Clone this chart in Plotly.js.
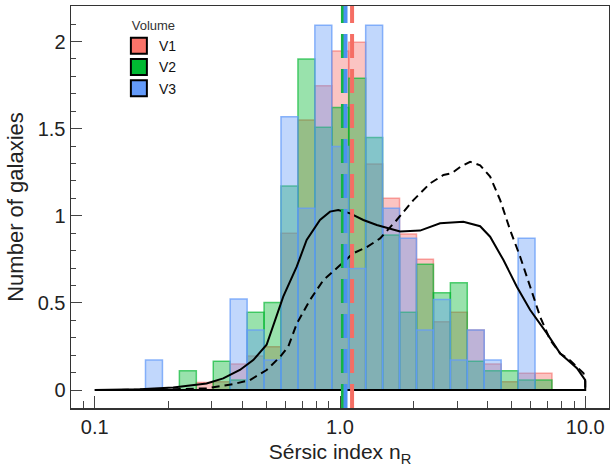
<!DOCTYPE html>
<html><head><meta charset="utf-8">
<script src="https://cdn.plot.ly/plotly-3.0.1.min.js"></script>
<style>html,body{margin:0;padding:0;background:#fff}#chart{width:610px;height:473px}</style>
</head><body><div id="chart"></div>
<script>
// Histogram bin edges (log-spaced Sérsic index)
const binEdges = [0.1610, 0.1888, 0.2213, 0.2595, 0.3042, 0.3566, 0.4181, 0.4901, 0.5746, 0.6737,
  0.7898, 0.9259, 1.0854, 1.2726, 1.4919, 1.7490, 2.0504, 2.4040, 2.8180, 3.3037,
  3.8726, 4.5404, 5.3236, 6.2410, 7.3160];
const seriesNames = ['V1', 'V2', 'V3'];
const countsV1 = [0, 0, 0, 0.044, 0.048, 0.149, 0.195, 0.249, 0.90, 1.55, 1.747, 1.946,
  1.996, 1.297, 1.10, 0.896, 0.750, 0.392, 0.446, 0.344, 0.149, 0.048, 0.096, 0.096];
const countsV2 = [0, 0, 0.111, 0, 0.166, 0.057, 0.446, 0.503, 1.171, 1.90, 1.508, 1.621,
  1.789, 1.45, 0.89, 0.446, 0.722, 0.559, 0.616, 0.166, 0.111, 0.111, 0.057, 0.057];
const countsV3 = [0.172, 0, 0, 0, 0, 0.522, 0.344, 0.172, 1.569, 1.043, 2.094, 1.397,
  0.698, 2.094, 1.043, 0.871, 0.344, 0.52, 0.172, 0.344, 0.172, 0, 0.871, 0];
const medians = [1.12, 1.028, 1.053];

// Black curves (closed outlines)
const solidX = [0.1, 0.1527, 0.2088, 0.2857, 0.3340, 0.3906, 0.4428, 0.5021, 0.5869, 0.666,
  0.7312, 0.8286, 0.9104, 0.9843, 1.099, 1.245, 1.412, 1.600, 1.758, 2.121, 2.560, 3.186,
  3.728, 4.094, 4.640, 5.262, 5.964, 6.977, 7.907, 8.687, 9.250, 10.0, 10.0, 0.1];
const solidY = [0, 0.005, 0.015, 0.038, 0.067, 0.115, 0.172, 0.26, 0.536, 0.708,
  0.861, 0.976, 1.024, 1.033, 1.014, 0.976, 0.947, 0.928, 0.91, 0.915, 0.957, 0.966,
  0.94, 0.88, 0.746, 0.593, 0.459, 0.325, 0.21, 0.16, 0.125, 0.057, 0, 0];
const dashedX = [0.1, 0.1842, 0.2857, 0.3668, 0.4292, 0.5021, 0.569, 0.6152, 0.666, 0.7544,
  0.8547, 1.0, 1.133, 1.285, 1.457, 1.703, 1.992, 2.330, 2.641, 2.857, 3.090, 3.393, 3.728,
  4.094, 4.499, 4.941, 5.428, 5.964, 6.551, 7.196, 7.907, 8.687, 9.843, 10.0, 10.0, 0.1];
const dashedY = [0, 0.002, 0.01, 0.034, 0.057, 0.115, 0.19, 0.25, 0.38, 0.517,
  0.63, 0.717, 0.785, 0.82, 0.87, 0.976, 1.09, 1.186, 1.234, 1.244, 1.28, 1.31, 1.29,
  1.225, 1.09, 0.918, 0.765, 0.593, 0.42, 0.287, 0.21, 0.17, 0.096, 0.05, 0, 0];

const xTickVals = [0.1, 1, 10];
const xTickText = ['0.1', '1.0', '10.0'];
const xMinorVals = [0.08, 0.09, 0.2, 0.3, 0.4, 0.5, 0.6, 0.7, 0.8, 0.9, 2, 3, 4, 5, 6, 7, 8, 9];
const yTickVals = [0, 0.5, 1, 1.5, 2];
const yTickText = ['0', '0.5', '1', '1.5', '2'];
const xRange = [0.08, 12.5];
const yRange = [-0.103, 2.204];

const fills = ['rgba(245,107,102,0.4)', 'rgba(0,183,48,0.4)', 'rgba(100,155,248,0.4)'];
const lines = ['rgba(245,107,102,0.6)', 'rgba(0,183,48,0.65)', 'rgba(100,155,248,0.75)'];
const solids = ['rgb(250,115,105)', 'rgb(0,185,50)', 'rgb(100,155,250)'];
const medianColors = ['rgb(245,110,100)', 'rgb(20,180,70)', 'rgb(75,145,240)'];

const lefts = binEdges.slice(0, -1);
const widths = lefts.map((v, i) => binEdges[i + 1] - v);
const allCounts = [countsV1, countsV2, countsV3];
const traces = [];
allCounts.forEach((c, k) => {
  traces.push({
    type: 'bar', x: lefts, y: c, width: widths, offset: 0,
    marker: {color: fills[k], line: {color: lines[k], width: 1.5}},
    showlegend: false, hoverinfo: 'skip'
  });
});
traces.push({type: 'scatter', mode: 'lines', x: solidX, y: solidY,
  line: {color: '#000', width: 2}, showlegend: false, hoverinfo: 'skip'});
traces.push({type: 'scatter', mode: 'lines', x: dashedX, y: dashedY,
  line: {color: '#000', width: 2, dash: '8px,5px'}, showlegend: false, hoverinfo: 'skip'});
[1, 2, 0].forEach(k => {
  traces.push({type: 'scatter', mode: 'lines', x: [medians[k], medians[k]], y: [yRange[0], yRange[1]],
    line: {color: medianColors[k], width: 4, dash: '24px,11px'}, showlegend: false, hoverinfo: 'skip'});
});
seriesNames.forEach((n, k) => {
  traces.push({type: 'scatter', mode: 'markers', x: [null], y: [null], name: n,
    marker: {symbol: 'square', size: 16, color: solids[k], line: {color: '#000', width: 2}}});
});
// minor ticks axis
traces.push({type: 'scatter', mode: 'lines', x: [xRange[0]], y: [0], xaxis: 'x2', showlegend: false,
  hoverinfo: 'skip', line: {width: 0}});

const font = 'Liberation Sans, Arial, sans-serif';
const layout = {
  width: 610, height: 473,
  margin: {l: 71, r: 1, t: 6, b: 65},
  paper_bgcolor: '#fff', plot_bgcolor: '#fff',
  barmode: 'overlay', bargap: 0,
  showlegend: true,
  legend: {x: 0.089, y: 0.982, xanchor: 'left', yanchor: 'top', bgcolor: 'rgba(0,0,0,0)',
    font: {family: font, size: 14, color: '#111'},
    title: {text: '&nbsp;&nbsp;&nbsp;Volume', font: {family: font, size: 13, color: '#333'}},
    tracegroupgap: 0},
  xaxis: {type: 'log', range: [Math.log10(xRange[0]), Math.log10(xRange[1])],
    tickvals: xTickVals, ticktext: xTickText, ticks: 'inside', ticklen: 12, tickwidth: 1,
    tickcolor: '#444', showgrid: false, zeroline: false,
    showline: true, linecolor: '#333', linewidth: 1.5, mirror: true,
    tickfont: {family: font, size: 20, color: '#222'},
    title: {text: 'Sérsic index n<sub>R</sub>', font: {family: font, size: 21, color: '#222'}, standoff: 8}},
  xaxis2: {type: 'log', range: [Math.log10(xRange[0]), Math.log10(xRange[1])], overlaying: 'x',
    anchor: 'y', side: 'bottom', tickvals: xMinorVals, ticks: 'inside', ticklen: 7, tickwidth: 1,
    tickcolor: '#444', showticklabels: false, showgrid: false, zeroline: false, showline: false},
  yaxis: {range: yRange, tickvals: yTickVals, ticktext: yTickText, ticks: 'inside', ticklen: 11,
    tickwidth: 1, tickcolor: '#444', showgrid: false, zeroline: false,
    showline: true, linecolor: '#333', linewidth: 1.5, mirror: true,
    minor: {dtick: 0.1, tick0: 0, ticks: 'inside', ticklen: 5, tickwidth: 1, tickcolor: '#444', showgrid: false},
    tickfont: {family: font, size: 20, color: '#222'},
    title: {text: 'Number of galaxies', font: {family: font, size: 22, color: '#222'}, standoff: 8}}
};
Plotly.newPlot('chart', traces, layout, {displayModeBar: false, staticPlot: true});
</script></body></html>
